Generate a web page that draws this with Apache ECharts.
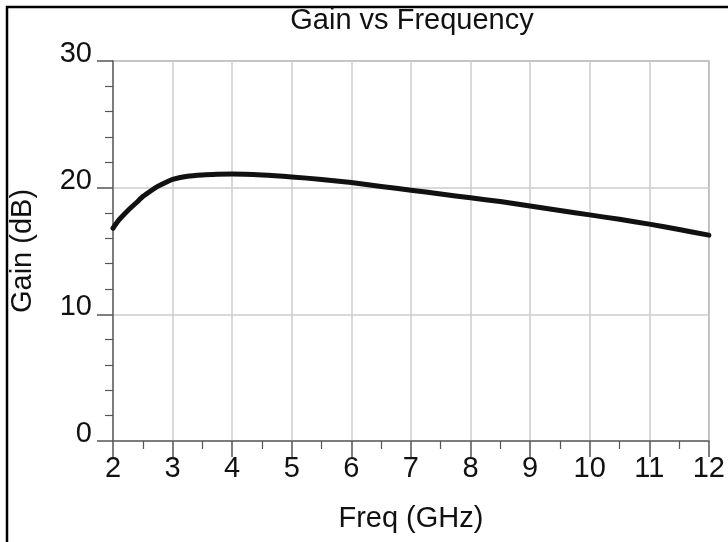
<!DOCTYPE html>
<html>
<head>
<meta charset="utf-8">
<script src="https://cdn.jsdelivr.net/npm/echarts@6/dist/echarts.min.js"></script>
<style>html,body{margin:0;padding:0;background:#fff;}#c{width:728px;height:542px;}</style>
</head>
<body>
<div id="c"></div>
<script>
const freqGHz = [2, 2.1, 2.25, 2.4, 2.5, 2.65, 2.75, 2.9, 3, 3.25, 3.5, 3.75, 4, 4.5, 5, 5.5, 6, 6.5, 7, 7.5, 8, 8.5, 9, 9.5, 10, 10.5, 11, 11.5, 12];
const gainDB  = [16.8, 17.45, 18.2, 18.85, 19.3, 19.8, 20.1, 20.45, 20.65, 20.9, 21.0, 21.05, 21.07, 21.0, 20.85, 20.65, 20.4, 20.1, 19.8, 19.5, 19.2, 18.9, 18.55, 18.2, 17.85, 17.5, 17.12, 16.7, 16.25];
const titleText = 'Gain vs Frequency';
const xName = 'Freq (GHz)';
const yName = 'Gain (dB)';

const FONT = 'Liberation Sans, Arial, sans-serif';
const FS = 29;
const chart = echarts.init(document.getElementById('c'), null, {renderer: 'canvas'});
chart.setOption({
  animation: false,
  backgroundColor: '#fff',
  graphic: [
    {type: 'rect', z: 0, silent: true, shape: {x: 7, y: 7, width: 900, height: 900},
     style: {fill: 'none', stroke: '#000', lineWidth: 2.5}},
    {type: 'text', z: 10, x: 412, y: 6,
     style: {text: titleText, font: FS + 'px ' + FONT, fill: '#111', align: 'center', verticalAlign: 'top'}}
  ],
  grid: {left: 113, top: 61, right: 16, bottom: 101, show: true, borderColor: '#6a6a6a', borderWidth: 1.2, backgroundColor: 'transparent'},
  xAxis: {
    type: 'value', min: 2, max: 12, interval: 1,
    name: xName, nameLocation: 'middle', nameGap: 63,
    nameTextStyle: {fontSize: FS, fontFamily: FONT, color: '#111'},
    axisLine: {show: true, lineStyle: {color: '#666', width: 1.5}},
    axisTick: {show: true, length: 16, lineStyle: {color: '#555', width: 1.5}},
    minorTick: {show: true, splitNumber: 2, length: 8, lineStyle: {color: '#555', width: 1.2}},
    axisLabel: {fontSize: FS, fontFamily: FONT, color: '#111', margin: 13, lineHeight: 29, showMaxLabel: true, showMinLabel: true},
    splitLine: {show: true, lineStyle: {color: '#cccccc', width: 1.5}}
  },
  yAxis: {
    type: 'value', min: 0, max: 30, interval: 10,
    name: yName, nameLocation: 'middle', nameGap: 76, nameRotate: 90,
    nameTextStyle: {fontSize: FS, fontFamily: FONT, color: '#111'},
    axisLine: {show: true, lineStyle: {color: '#666', width: 1.5}},
    axisTick: {show: true, length: 16, lineStyle: {color: '#555', width: 1.5}},
    minorTick: {show: true, splitNumber: 5, length: 8, lineStyle: {color: '#555', width: 1.2}},
    axisLabel: {fontSize: FS, fontFamily: FONT, color: '#111', margin: 21, verticalAlign: 'bottom', lineHeight: 14},
    splitLine: {show: true, lineStyle: {color: '#cccccc', width: 1.5}}
  },
  series: [{
    type: 'line', smooth: 0.2, symbol: 'none', clip: false,
    data: freqGHz.map((f, i) => [f, gainDB[i]]),
    lineStyle: {color: '#111', width: 5, join: 'round', cap: 'round'}
  }]
});
</script>
</body>
</html>
